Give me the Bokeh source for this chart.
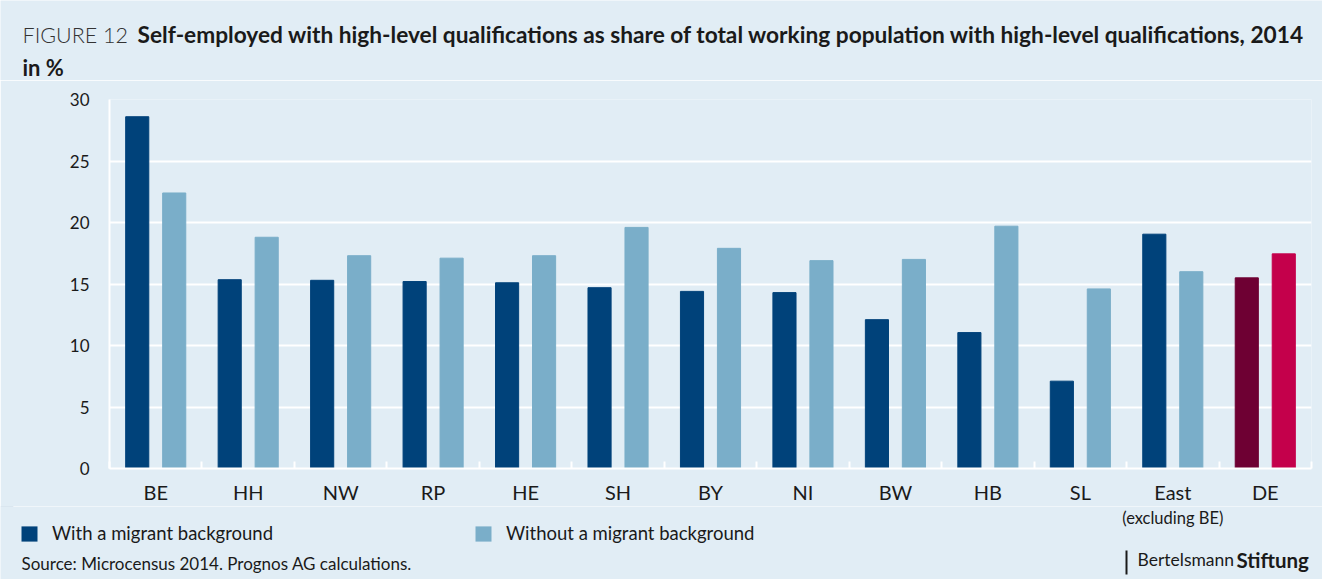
import numpy as np
from bokeh.plotting import figure
from bokeh.layouts import column
from bokeh.models import (Range1d, FixedTicker, Label, Legend, LegendItem, ColumnDataSource, BoxAnnotation)
from bokeh.embed import file_html
from bokeh.resources import INLINE

# ---- data ----
categories = ["BE", "HH", "NW", "RP", "HE", "SH", "BY", "NI", "BW", "HB", "SL", "East", "DE"]
with_migrant = [28.6, 15.35, 15.3, 15.2, 15.1, 14.7, 14.4, 14.3, 12.1, 11.05, 7.1, 19.05, 15.5]
without_migrant = [22.4, 18.8, 17.3, 17.1, 17.3, 19.6, 17.9, 16.9, 17.0, 19.7, 14.6, 16.0, 17.45]
y_ticks = [0, 5, 10, 15, 20, 25, 30]
series_names = ["With a migrant background", "Without a migrant background"]
highlight = "DE"

BG = "#e1edf5"
DARK, LIGHT = "#00427a", "#7aaec9"
DARK_HL, LIGHT_HL = "#6e0033", "#c4004b"
TXT = "#1a1a1a"
FONT = "Lato"

W = 1322
H_HEAD, H_MAIN, H_FOOT = 80, 426, 73
LB, RB, TB, BB = 109, 11, 19, 36
n = len(categories)


def blank(h, y0):
    f = figure(width=W, height=h, output_backend="svg", toolbar_location=None, title=None,
               x_range=Range1d(0, W), y_range=Range1d(y0 + h, y0),
               x_axis_location=None, y_axis_location=None,
               min_border=0, min_border_left=0, min_border_right=0,
               min_border_top=0, min_border_bottom=0, frame_align=False)
    f.grid.visible = False
    f.background_fill_color = BG
    f.border_fill_color = BG
    f.outline_line_color = None
    return f


def lab(f, x, y, text, size, bold=False, align="left", font=FONT, color=TXT):
    f.add_layout(Label(x=x, y=y, text=text, text_font=font, text_font_size=size,
                       text_font_style="bold" if bold else "normal", text_color=color,
                       text_align=align, text_baseline="middle"))


# ---- header ----
head = blank(H_HEAD, 0)
lab(head, 22, 34, "FIGURE 12", "21.5px", font="'Lato Light', Lato", color="#333333")
lab(head, 137, 34, "Self-employed with high-level qualifications as share of total working population with high-level qualifications, 2014", "22.7px", bold=True)
lab(head, 22, 67, "in %", "22px", bold=True)

# ---- main chart ----
centers = np.arange(n) + 0.5
dark_cols = [DARK_HL if c == highlight else DARK for c in categories]
light_cols = [LIGHT_HL if c == highlight else LIGHT for c in categories]
src = ColumnDataSource(dict(x1=centers - 0.2, x2=centers + 0.2, a=with_migrant, b=without_migrant,
                            c1=dark_cols, c2=light_cols))

p = figure(width=W, height=H_MAIN, output_backend="svg", toolbar_location=None, title=None,
           x_range=Range1d(0, n), y_range=Range1d(0, 30), frame_align=False,
           min_border_left=LB, min_border_right=RB, min_border_top=TB, min_border_bottom=BB)
p.background_fill_color = BG
p.border_fill_color = BG
p.outline_line_color = None

p.vbar(x="x1", top="a", width=0.25, color="c1", source=src)
p.vbar(x="x2", top="b", width=0.25, color="c2", source=src)

p.xgrid.visible = False
p.ygrid.grid_line_color = "white"
p.ygrid.grid_line_width = 2
p.yaxis.ticker = FixedTicker(ticks=y_ticks)
p.yaxis.axis_line_color = "white"
p.yaxis.axis_line_width = 2
p.yaxis.major_tick_line_color = None
p.yaxis.major_tick_out = 0
p.yaxis.major_tick_in = 0
p.yaxis.minor_tick_line_color = None
p.yaxis.minor_tick_out = 0
p.yaxis.major_label_text_font = FONT
p.yaxis.major_label_text_font_size = "17px"
p.yaxis.major_label_text_color = TXT
p.yaxis.major_label_standoff = 20

p.xaxis.ticker = FixedTicker(ticks=list(centers), minor_ticks=list(np.arange(n + 1)))
p.xaxis.major_label_overrides = {float(c): cat for c, cat in zip(centers, categories)}
p.xaxis.axis_line_color = "white"
p.xaxis.axis_line_width = 2
p.xaxis.major_tick_line_color = None
p.xaxis.major_tick_out = 0
p.xaxis.major_tick_in = 0
p.xaxis.minor_tick_line_color = "white"
p.xaxis.minor_tick_line_width = 2
p.xaxis.minor_tick_in = 7
p.xaxis.minor_tick_out = 0
p.xaxis.major_label_text_font = FONT
p.xaxis.major_label_text_font_size = "20px"
p.xaxis.major_label_text_color = TXT
p.xaxis.major_label_standoff = 11

# ---- footer ----
y0 = H_HEAD + H_MAIN
foot = blank(H_FOOT, y0)
east_x = LB + (categories.index("East") + 0.5) * (W - LB - RB) / n
lab(foot, east_x, 517, "(excluding BE)", "16.5px", align="center")
lab(foot, 21, 563, "Source: Microcensus 2014. Prognos AG calculations.", "17px")
foot.add_layout(BoxAnnotation(left=1125, right=1127, top=550, bottom=574, fill_color=TXT,
                              fill_alpha=1, line_color=None))
lab(foot, 1137, 559, "Bertelsmann", "17.5px")
lab(foot, 1236, 559, "Stiftung", "20.5px", bold=True)

# legend renderers share the chart data but have zero height (nothing visible)
leg_r1 = foot.vbar(x="x1", top="a", bottom="a", width=0.25, fill_color=DARK, line_color=None, source=src)
leg_r2 = foot.vbar(x="x2", top="b", bottom="b", width=0.25, fill_color=LIGHT, line_color=None, source=src)
for r, name, px in [(leg_r1, series_names[0], 19), (leg_r2, series_names[1], 473)]:
    lg = Legend(items=[LegendItem(label=name, renderers=[r])],
                location=(px, 579 - 544), orientation="horizontal",
                glyph_width=20, glyph_height=19, label_standoff=13, padding=0, margin=0,
                label_text_font=FONT, label_text_font_size="18.5px", label_text_color=TXT,
                background_fill_alpha=0, border_line_color=None, label_height=19)
    foot.add_layout(lg, "center")

layout = column(head, p, foot, spacing=0)
open("out.html", "w").write(file_html(layout, INLINE))
